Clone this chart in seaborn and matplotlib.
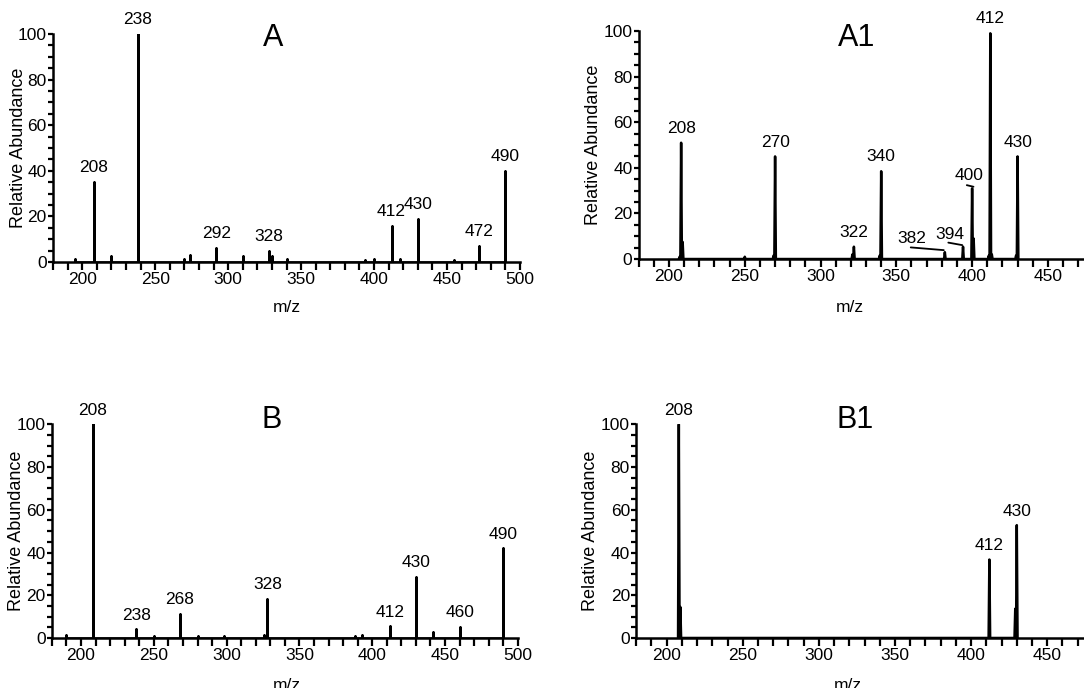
import numpy as np
import matplotlib.pyplot as plt
import seaborn as sns
from matplotlib.ticker import MultipleLocator

# peak lists (m/z, relative abundance)
a_mz = [195, 208, 220, 238, 270, 274, 292, 310, 328, 330, 340, 394, 400, 412, 418, 430, 455, 472, 490]
a_ab = [1.5, 35, 2.5, 100, 1.5, 3, 6, 2.5, 5, 2.5, 1.5, 1, 1.5, 16, 1.5, 19, 1, 7, 40]
a_lab = [208, 238, 292, 328, 412, 430, 472, 490]

a1_mz = [207, 208, 209, 250, 269, 270, 321, 322, 339, 340, 382, 394, 400, 401, 411, 412, 413, 429, 430]
a1_ab = [1, 51, 7.5, 1, 1.5, 45, 2, 5.4, 1.5, 38.5, 3, 5.4, 31, 9, 1.5, 99, 2, 1.5, 45]
a1_lab = [208, 270, 322, 340, 412, 430]

b_mz = [190, 208, 238, 250, 268, 280, 298, 326, 328, 388, 393, 412, 430, 442, 460, 490]
b_ab = [1.5, 100, 4, 1, 11.4, 1, 1, 1.5, 18.4, 1, 1.2, 5.6, 28.6, 2.8, 5.2, 42]
b_lab = [208, 238, 268, 328, 412, 430, 460, 490]

b1_mz = [208, 209, 412, 429, 430]
b1_ab = [100, 14.5, 36.7, 13.7, 52.8]
b1_lab = [208, 412, 430]

sns.set_style("ticks")
plt.rcParams['font.family'] = ['Liberation Sans', 'DejaVu Sans']
plt.rcParams['text.color'] = 'black'
plt.rcParams['axes.labelcolor'] = 'black'
plt.rcParams['xtick.color'] = 'black'
plt.rcParams['ytick.color'] = 'black'
plt.rcParams['axes.edgecolor'] = 'black'

FS = 12.5

fig = plt.figure(figsize=(10.84, 6.88), dpi=100)


def spectrum(rect, mz, ab, labels, title, title_xy, ylab_x, xlab_xy, width):
    ax = fig.add_axes(rect)
    mz = np.asarray(mz, float)
    ab = np.asarray(ab, float)
    x = np.column_stack([mz - width, mz, mz + width]).ravel()
    y = np.column_stack([np.zeros_like(ab), ab, np.zeros_like(ab)]).ravel()
    sns.lineplot(x=x, y=y, sort=False, estimator=None, color='black', lw=1.8, ax=ax)
    ax.set_xlim(180, 500)
    ax.set_ylim(0, 100)
    ax.xaxis.set_major_locator(MultipleLocator(50))
    ax.xaxis.set_minor_locator(MultipleLocator(10))
    ax.yaxis.set_major_locator(MultipleLocator(20))
    ax.yaxis.set_minor_locator(MultipleLocator(5))
    ax.tick_params(axis='x', which='both', length=6, width=1.6, pad=1, labelsize=FS)
    ax.tick_params(axis='y', which='both', length=3.5, width=1.6, pad=1, labelsize=FS)
    for s in ['top', 'right']:
        ax.spines[s].set_visible(False)
    for s in ['left', 'bottom']:
        ax.spines[s].set_linewidth(1.8)
    ax.set_xlabel("m/z", fontsize=FS)
    ax.set_ylabel("Relative Abundance", fontsize=13)
    ax.xaxis.set_label_coords(*xlab_xy)
    ax.yaxis.set_label_coords(ylab_x, 0.5)
    for m in labels:
        h = ab[mz == m].max()
        ax.text(m, h + 3, str(m), ha='center', va='bottom', fontsize=FS)
    ax.text(title_xy[0], title_xy[1], title, transform=ax.transAxes,
            ha='center', va='center', fontsize=22)
    return ax


spectrum([0.0489, 0.6192, 0.4308, 0.3314], a_mz, a_ab, a_lab, "A",
         (0.471, 0.982), -0.056, (0.50, -0.167), 0.0)
ax_a1 = spectrum([0.5892, 0.6235, 0.4474, 0.3314], a1_mz, a1_ab, a1_lab, "A1",
                 (0.449, 0.969), -0.076, (0.436, -0.18), 0.5)
spectrum([0.0479, 0.0727, 0.4298, 0.3106], b_mz, b_ab, b_lab, "B",
         (0.472, 1.02), -0.058, (0.505, -0.187), 0.0)
spectrum([0.5869, 0.0727, 0.4494, 0.3106], b1_mz, b1_ab, b1_lab, "B1",
         (0.45, 1.02), -0.076, (0.435, -0.187), 0.5)

# small peaks in A1 labelled with leader lines
ax_a1.text(360, 5.7, "382", ha='center', va='bottom', fontsize=FS)
ax_a1.plot([359.5, 381.3], [5.1, 3.9], color='black', lw=1.3)
ax_a1.text(385.3, 7.6, "394", ha='center', va='bottom', fontsize=FS)
ax_a1.plot([384.3, 393.5], [7.2, 6.1], color='black', lw=1.3)
ax_a1.text(397.9, 33.4, "400", ha='center', va='bottom', fontsize=FS)
ax_a1.plot([396.5, 400.9], [32.4, 31.7], color='black', lw=1.3)

plt.savefig("out.png", dpi=100)
